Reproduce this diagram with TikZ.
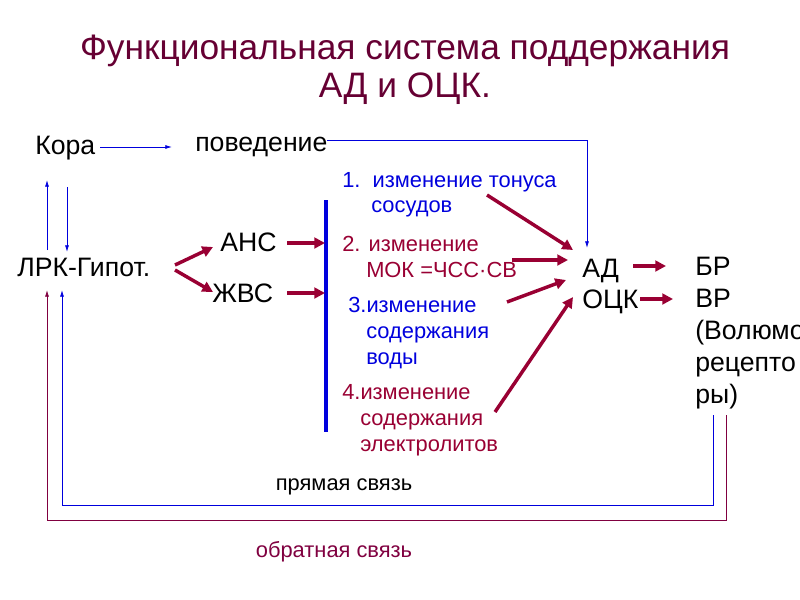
\documentclass[tikz,border=0pt]{standalone}
\usepackage{fontspec}
\setmainfont{Liberation Sans}
\usetikzlibrary{arrows.meta}
\definecolor{dred}{HTML}{990033}
\definecolor{ttl}{HTML}{660033}
\definecolor{fb}{HTML}{800040}
\definecolor{bl}{HTML}{0000DD}
\begin{document}
\begin{tikzpicture}[x=0.75pt,y=-0.75pt,
  txt/.style={anchor=base west,inner sep=0pt,font=\fontsize{20}{20}\selectfont},
  lab/.style={anchor=base west,inner sep=0pt,font=\fontsize{16.4}{16.4}\selectfont},
  thin/.style={bl,line width=0.6pt,-{Latex[length=5pt,width=3pt]}},
  fat/.style={dred,line width=2.6pt,-{Triangle[length=8pt,width=8pt]}}]
\useasboundingbox (0,0) rectangle (800,600);
\clip (0,0) rectangle (800,600);
\node[ttl,font=\fontsize{26.5}{26.5}\selectfont,align=center] (title) at (405,70) {Функциональная система поддержания\\[2pt]АД и ОЦК.};
\node[txt] (kora) at (35,154) {Кора};
\node[txt] (pov) at (195,151) {поведение};
\node[txt] (lrk) at (17,276) {ЛРК-Гипот.};
\node[txt] (ans) at (220,251) {АНС};
\node[txt] (zhvs) at (212,302) {ЖВС};
\node[txt] (ad) at (582,277) {АД};
\node[txt] (ock) at (582,308) {ОЦК};
\node[txt] (br) at (695,275) {БР};
\node[txt] (vr) at (695,307) {ВР};
\node[txt] (vol) at (695,339) {(Волюмо};
\node[txt] (rec) at (695,371) {рецепто};
\node[txt] (ry) at (695,403) {ры)};
\node[lab,bl] (l1) at (342,187) {1.\ \ изменение тонуса};
\node[lab,bl] (l1b) at (371,212) {сосудов};
\node[lab,dred] (l2) at (342,251) {2. изменение};
\node[lab,dred] (l2b) at (366,277) {МОК =ЧСС·СВ};
\node[lab,bl] (l3) at (348,312) {3.изменение};
\node[lab,bl] (l3b) at (366,338) {содержания};
\node[lab,bl] (l3c) at (366,364) {воды};
\node[lab,dred] (l4) at (342,399) {4.изменение};
\node[lab,dred] (l4b) at (360,425) {содержания};
\node[lab,dred] (l4c) at (360,451) {электролитов};
\node[lab,anchor=center] (pr) at (344,487) {прямая связь};
\node[lab,anchor=center,fb] (ob) at (334,552) {обратная связь};
\coordinate (bt) at (326,200); \coordinate (bb) at (326,432);
\draw[bl,line width=2.5pt] (bt) -- (bb);
\draw[thin] (100,147) -- (172,147);
\draw[thin] (327,140) -- (587,140) -- (587,248);
\draw[thin] (47,250) -- (47,180);
\draw[thin] (67,187) -- (67,252);
\draw[thin] (713,415) -- (713,505) -- (62,505) -- (62,290);
\draw[thin,fb] (726,415) -- (726,520) -- (47,520) -- (47,290);
\draw[fat] (175,265) -- (213,247);
\draw[fat] (175,270) -- (213,292);
\draw[fat] (287,243) -- (325,243);
\draw[fat] (287,293) -- (325,293);
\draw[fat] (487,195) -- (573,250);
\draw[fat] (512,260) -- (568,260);
\draw[fat] (507,302) -- (566,280);
\draw[fat] (495,412) -- (573,297);
\draw[fat] (633,266) -- (666,266);
\draw[fat] (640,299) -- (673,299);
\end{tikzpicture}
\end{document}
